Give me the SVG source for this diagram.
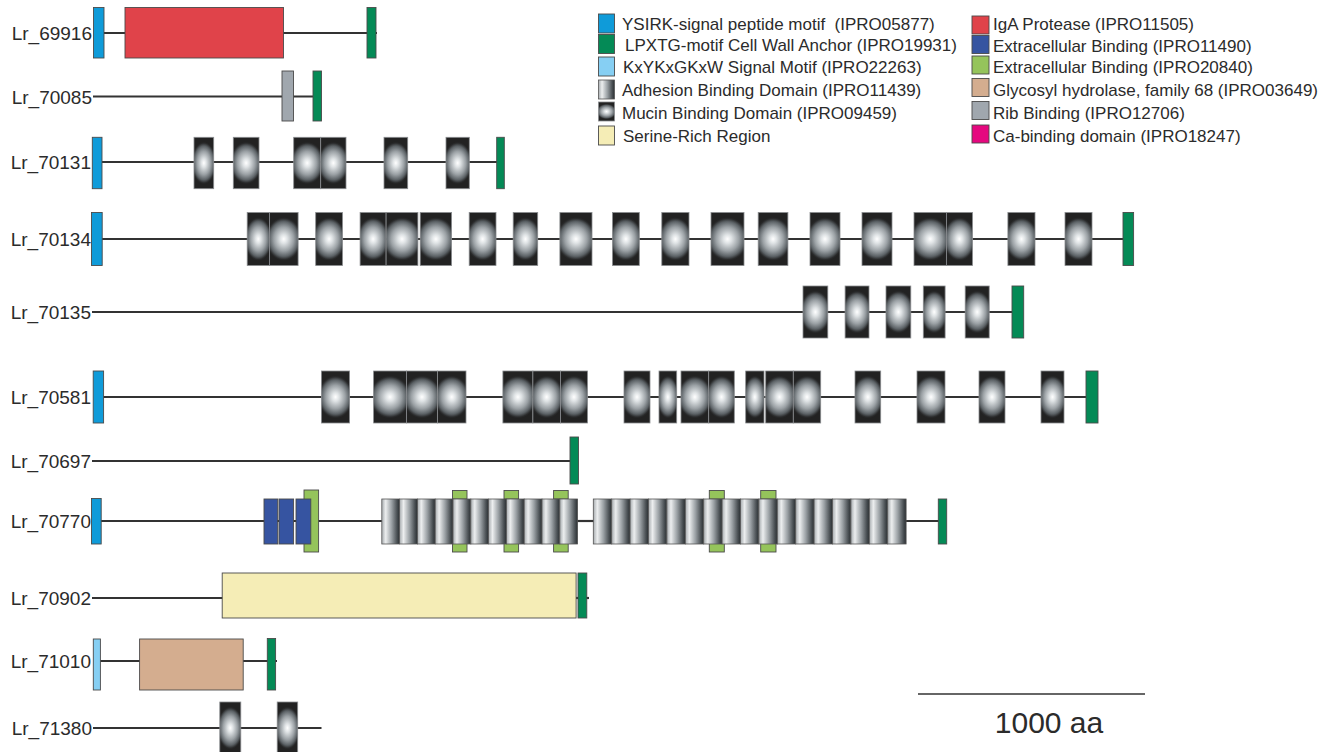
<svg xmlns="http://www.w3.org/2000/svg" width="1332" height="752" viewBox="0 0 1332 752">
<style>
.lbl{font-family:"Liberation Sans",Arial,sans-serif;font-size:19px;fill:#2b2b2b;text-anchor:end}
.leg{font-family:"Liberation Sans",Arial,sans-serif;font-size:17px;fill:#2b2b2b}
.bb{stroke:#333;stroke-width:2.2;fill:none}
.b{stroke:#4a4a4a;stroke-width:0.9}
.ysirk{fill:#0f9bd9}
.lpxtg{fill:#048a56}
.kxyk{fill:#86cff3}
.muc{fill:url(#mucin);stroke:#8a8d90;stroke-width:0.8}
.adh{fill:url(#adh);stroke:#555;stroke-width:0.8}
.ser{fill:#f5edb6}
.iga{fill:#e0434a}
.exb{fill:#3654a1}
.exg{fill:#95c45b}
.gly{fill:#d4ad8f}
.rib{fill:#a0a7ae}
.ca{fill:#e5087f}
</style>
<defs>
<radialGradient id="mucin" cx="0.5" cy="0.5" r="0.5" gradientUnits="objectBoundingBox" gradientTransform="translate(0.5 0.5) scale(1.25 0.82) translate(-0.5 -0.5)">
<stop offset="0" stop-color="#ffffff"/>
<stop offset="0.2" stop-color="#dfe3e5"/>
<stop offset="0.55" stop-color="#9ba1a5"/>
<stop offset="0.8" stop-color="#5c6266"/>
<stop offset="0.94" stop-color="#2a2b2c"/>
<stop offset="1" stop-color="#222222"/>
</radialGradient>
<linearGradient id="adh" x1="0" y1="0" x2="1" y2="0">
<stop offset="0" stop-color="#a7acaf"/>
<stop offset="0.22" stop-color="#eceeef"/>
<stop offset="0.55" stop-color="#9ba1a5"/>
<stop offset="0.85" stop-color="#4b5155"/>
<stop offset="1" stop-color="#2a2f32"/>
</linearGradient>
</defs>

<g id="legend">
<rect class="b ysirk" x="598.5" y="14" width="16" height="19"/>
<text class="leg" x="622" y="30" xml:space="preserve">YSIRK-signal peptide motif  (IPRO05877)</text>
<rect class="b lpxtg" x="598.5" y="34.5" width="16" height="19"/>
<text class="leg" x="625" y="51">LPXTG-motif Cell Wall Anchor (IPRO19931)</text>
<rect class="b kxyk" x="598.5" y="57" width="16" height="19"/>
<text class="leg" x="623" y="73">KxYKxGKxW Signal Motif (IPRO22263)</text>
<rect class="adh" x="598.5" y="80" width="16" height="19"/>
<text class="leg" x="622" y="96">Adhesion Binding Domain (IPRO11439)</text>
<rect class="muc" x="598.5" y="102" width="16" height="19"/>
<text class="leg" x="622" y="119">Mucin Binding Domain (IPRO09459)</text>
<rect class="b ser" x="598.5" y="126" width="16" height="19"/>
<text class="leg" x="623" y="142">Serine-Rich Region</text>

<rect class="b iga" x="972" y="16" width="17" height="18"/>
<text class="leg" x="993" y="30">IgA Protease (IPRO11505)</text>
<rect class="b exb" x="972" y="35.5" width="17" height="18"/>
<text class="leg" x="993" y="52">Extracellular Binding (IPRO11490)</text>
<rect class="b exg" x="972" y="56" width="17" height="18"/>
<text class="leg" x="993" y="73">Extracellular Binding (IPRO20840)</text>
<rect class="b gly" x="972" y="78.5" width="17" height="18"/>
<text class="leg" x="993" y="96">Glycosyl hydrolase, family 68 (IPRO03649)</text>
<rect class="b rib" x="972" y="101.5" width="17" height="18"/>
<text class="leg" x="993" y="119">Rib Binding (IPRO12706)</text>
<rect class="b ca" x="972" y="125" width="17" height="18"/>
<text class="leg" x="993" y="142">Ca-binding domain (IPRO18247)</text>
</g>

<g id="Lr_69916">
<text class="lbl" x="92" y="40">Lr_69916</text>
<line class="bb" x1="104" y1="33" x2="377" y2="33"/>
<rect class="b ysirk" x="93.5" y="7.5" width="10.5" height="50.5"/>
<rect class="b iga" x="125" y="7.5" width="158.5" height="50.5"/>
<rect class="b lpxtg" x="367" y="7.5" width="9" height="50.5"/>
</g>

<g id="Lr_70085">
<text class="lbl" x="92" y="103.5">Lr_70085</text>
<line class="bb" x1="93" y1="96.5" x2="314" y2="96.5"/>
<rect class="b rib" x="282" y="71" width="11.5" height="50"/>
<rect class="b lpxtg" x="313" y="71" width="8.5" height="50"/>
</g>

<g id="Lr_70131">
<text class="lbl" x="91" y="169">Lr_70131</text>
<line class="bb" x1="102" y1="162" x2="497" y2="162"/>
<rect class="b ysirk" x="92.3" y="137.3" width="9.7" height="51.4"/>
<rect class="muc" x="194" y="137.3" width="19.7" height="51.4"/>
<rect class="muc" x="233.3" y="137.3" width="25.7" height="51.4"/>
<rect class="muc" x="293.7" y="137.3" width="27" height="51.4"/>
<rect class="muc" x="320.7" y="137.3" width="25.3" height="51.4"/>
<rect class="muc" x="384" y="137.3" width="23.7" height="51.4"/>
<rect class="muc" x="446" y="137.3" width="23.3" height="51.4"/>
<rect class="b lpxtg" x="496.7" y="137.3" width="7.6" height="51.4"/>
</g>

<g id="Lr_70134">
<text class="lbl" x="91" y="246">Lr_70134</text>
<line class="bb" x1="102" y1="239" x2="1123" y2="239"/>
<rect class="b ysirk" x="91.5" y="212.5" width="10.7" height="53"/>
<rect class="muc" x="247.2" y="212.5" width="22.2" height="53"/>
<rect class="muc" x="269.4" y="212.5" width="28.7" height="53"/>
<rect class="muc" x="315.7" y="212.5" width="26.8" height="53"/>
<rect class="muc" x="360.1" y="212.5" width="26" height="53"/>
<rect class="muc" x="386.1" y="212.5" width="31.8" height="53"/>
<rect class="muc" x="420.2" y="212.5" width="31.4" height="53"/>
<rect class="muc" x="469.2" y="212.5" width="26.8" height="53"/>
<rect class="muc" x="513.2" y="212.5" width="24.5" height="53"/>
<rect class="muc" x="559.9" y="212.5" width="32.1" height="53"/>
<rect class="muc" x="612.5" y="212.5" width="26.8" height="53"/>
<rect class="muc" x="661.8" y="212.5" width="27.2" height="53"/>
<rect class="muc" x="711" y="212.5" width="33" height="53"/>
<rect class="muc" x="758.2" y="212.5" width="29.7" height="53"/>
<rect class="muc" x="810" y="212.5" width="30" height="53"/>
<rect class="muc" x="862" y="212.5" width="30" height="53"/>
<rect class="muc" x="914" y="212.5" width="32.4" height="53"/>
<rect class="muc" x="946.4" y="212.5" width="26.1" height="53"/>
<rect class="muc" x="1007.9" y="212.5" width="27.1" height="53"/>
<rect class="muc" x="1065" y="212.5" width="27" height="53"/>
<rect class="b lpxtg" x="1123" y="212.5" width="10.6" height="53"/>
</g>

<g id="Lr_70135">
<text class="lbl" x="91" y="319">Lr_70135</text>
<line class="bb" x1="92" y1="312" x2="1012" y2="312"/>
<rect class="muc" x="803" y="286" width="24.8" height="52"/>
<rect class="muc" x="845.1" y="286" width="23.9" height="52"/>
<rect class="muc" x="886" y="286" width="24.8" height="52"/>
<rect class="muc" x="923.3" y="286" width="21.8" height="52"/>
<rect class="muc" x="965.2" y="286" width="24" height="52"/>
<rect class="b lpxtg" x="1012" y="286" width="11.7" height="52"/>
</g>

<g id="Lr_70581">
<text class="lbl" x="91" y="404">Lr_70581</text>
<line class="bb" x1="103" y1="397" x2="1086" y2="397"/>
<rect class="b ysirk" x="93.2" y="371" width="10.4" height="52"/>
<rect class="muc" x="321.4" y="371" width="28.2" height="52"/>
<rect class="muc" x="373.6" y="371" width="32.8" height="52"/>
<rect class="muc" x="406.4" y="371" width="31.1" height="52"/>
<rect class="muc" x="437.5" y="371" width="28.5" height="52"/>
<rect class="muc" x="502.9" y="371" width="30" height="52"/>
<rect class="muc" x="532.9" y="371" width="27.5" height="52"/>
<rect class="muc" x="560.4" y="371" width="27.1" height="52"/>
<rect class="muc" x="624" y="371" width="26" height="52"/>
<rect class="muc" x="659" y="371" width="17.7" height="52"/>
<rect class="muc" x="681" y="371" width="27.7" height="52"/>
<rect class="muc" x="708.7" y="371" width="25.6" height="52"/>
<rect class="muc" x="745.7" y="371" width="18.3" height="52"/>
<rect class="muc" x="765.7" y="371" width="27.6" height="52"/>
<rect class="muc" x="793.3" y="371" width="27.4" height="52"/>
<rect class="muc" x="855" y="371" width="25.7" height="52"/>
<rect class="muc" x="917" y="371" width="28" height="52"/>
<rect class="muc" x="979" y="371" width="26" height="52"/>
<rect class="muc" x="1041" y="371" width="23" height="52"/>
<rect class="b lpxtg" x="1086" y="371" width="12" height="52"/>
</g>

<g id="Lr_70697">
<text class="lbl" x="91" y="468">Lr_70697</text>
<line class="bb" x1="92" y1="461" x2="571" y2="461"/>
<rect class="b lpxtg" x="570" y="437" width="8.5" height="47"/>
</g>

<g id="Lr_70770">
<text class="lbl" x="91" y="528">Lr_70770</text>
<line class="bb" x1="101" y1="521" x2="382" y2="521"/>
<line class="bb" x1="577" y1="521" x2="594" y2="521"/>
<line class="bb" x1="905" y1="521" x2="939" y2="521"/>
<rect class="b ysirk" x="91.5" y="498.5" width="9.7" height="45.5"/>
<rect class="b exg" x="304" y="490" width="14.6" height="62"/>
<rect class="b exb" x="264" y="499" width="13.7" height="45"/>
<rect class="b exb" x="279" y="499" width="14.6" height="45"/>
<rect class="b exb" x="296" y="499" width="14.8" height="45"/>
<g id="tabs">
<rect class="b exg" x="452.5" y="490.5" width="14.5" height="8.5"/>
<rect class="b exg" x="452.5" y="543.5" width="14.5" height="8.5"/>
<rect class="b exg" x="504" y="490.5" width="14.6" height="8.5"/>
<rect class="b exg" x="504" y="543.5" width="14.6" height="8.5"/>
<rect class="b exg" x="553.6" y="490.5" width="14.6" height="8.5"/>
<rect class="b exg" x="553.6" y="543.5" width="14.6" height="8.5"/>
<rect class="b exg" x="709.3" y="490.5" width="15" height="8.5"/>
<rect class="b exg" x="709.3" y="543.5" width="15" height="8.5"/>
<rect class="b exg" x="760.7" y="490.5" width="15.3" height="8.5"/>
<rect class="b exg" x="760.7" y="543.5" width="15.3" height="8.5"/>
</g>
<g id="adh1">
<rect class="adh" x="381.8" y="499" width="17.8" height="45"/>
<rect class="adh" x="399.6" y="499" width="17.8" height="45"/>
<rect class="adh" x="417.4" y="499" width="17.8" height="45"/>
<rect class="adh" x="435.2" y="499" width="17.8" height="45"/>
<rect class="adh" x="453" y="499" width="17.8" height="45"/>
<rect class="adh" x="470.8" y="499" width="17.8" height="45"/>
<rect class="adh" x="488.6" y="499" width="17.8" height="45"/>
<rect class="adh" x="506.4" y="499" width="17.8" height="45"/>
<rect class="adh" x="524.2" y="499" width="17.8" height="45"/>
<rect class="adh" x="542" y="499" width="17.8" height="45"/>
<rect class="adh" x="559.8" y="499" width="17.8" height="45"/>
</g>
<g id="adh2">
<rect class="adh" x="593.3" y="499" width="18.4" height="45"/>
<rect class="adh" x="611.7" y="499" width="18.4" height="45"/>
<rect class="adh" x="630.1" y="499" width="18.4" height="45"/>
<rect class="adh" x="648.5" y="499" width="18.4" height="45"/>
<rect class="adh" x="666.9" y="499" width="18.4" height="45"/>
<rect class="adh" x="685.3" y="499" width="18.4" height="45"/>
<rect class="adh" x="703.7" y="499" width="18.4" height="45"/>
<rect class="adh" x="722.1" y="499" width="18.4" height="45"/>
<rect class="adh" x="740.5" y="499" width="18.4" height="45"/>
<rect class="adh" x="758.9" y="499" width="18.4" height="45"/>
<rect class="adh" x="777.3" y="499" width="18.4" height="45"/>
<rect class="adh" x="795.7" y="499" width="18.4" height="45"/>
<rect class="adh" x="814.1" y="499" width="18.4" height="45"/>
<rect class="adh" x="832.5" y="499" width="18.4" height="45"/>
<rect class="adh" x="850.9" y="499" width="18.4" height="45"/>
<rect class="adh" x="869.3" y="499" width="18.4" height="45"/>
<rect class="adh" x="887.7" y="499" width="18.4" height="45"/>
</g>
<rect class="b lpxtg" x="938.3" y="499" width="8.4" height="45"/>
</g>

<g id="Lr_70902">
<text class="lbl" x="91" y="605">Lr_70902</text>
<line class="bb" x1="92" y1="598" x2="223" y2="598"/>
<line class="bb" x1="576" y1="598" x2="589" y2="598"/>
<rect class="b ser" x="222.2" y="573" width="353.9" height="45"/>
<rect class="b lpxtg" x="578" y="573" width="8.8" height="45"/>
</g>

<g id="Lr_71010">
<text class="lbl" x="91" y="668">Lr_71010</text>
<line class="bb" x1="100" y1="661" x2="140" y2="661"/>
<line class="bb" x1="243" y1="661" x2="277" y2="661"/>
<rect class="b kxyk" x="93.3" y="639" width="7.1" height="51"/>
<rect class="b gly" x="139.6" y="639" width="103.6" height="51"/>
<rect class="b lpxtg" x="267.3" y="638.5" width="8.3" height="51.5"/>
</g>

<g id="Lr_71380">
<text class="lbl" x="92" y="735">Lr_71380</text>
<line class="bb" x1="93" y1="728" x2="321.5" y2="728"/>
<rect class="muc" x="219.8" y="702" width="21" height="52"/>
<rect class="muc" x="277.2" y="702" width="20.5" height="52"/>
</g>

<g id="scale">
<line x1="918" y1="694" x2="1145" y2="694" stroke="#333" stroke-width="1.6"/>
<text x="1049" y="733" font-family="'Liberation Sans',Arial,sans-serif" font-size="30" fill="#2b2b2b" text-anchor="middle">1000 aa</text>
</g>
</svg>
